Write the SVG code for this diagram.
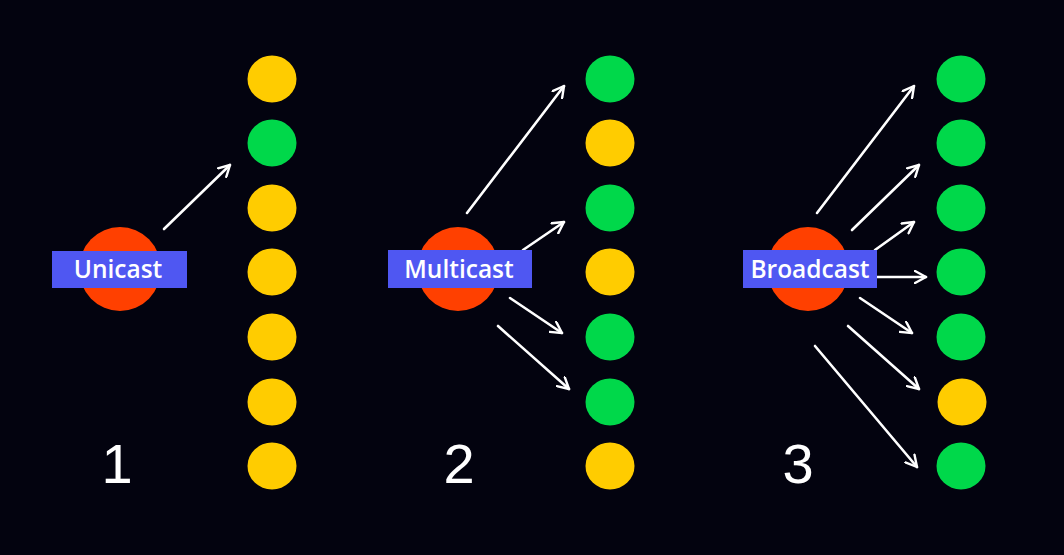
<svg xmlns="http://www.w3.org/2000/svg" width="1064" height="555" viewBox="0 0 1064 555">
<defs>
<style>
.y{fill:#ffcc00}.g{fill:#00d84a}.src{fill:#ff4000}.lbl{fill:#4f57f2}
.lt{fill:#ffffff;font-family:"Open Sans","Liberation Sans",sans-serif;font-weight:600;font-size:24.5px;text-anchor:middle}
.num{fill:#ffffff;font-family:"Liberation Sans",Arial,sans-serif;font-size:56px;text-anchor:middle}
.ar{stroke:#ffffff;stroke-width:2.6;fill:none;stroke-linecap:round;marker-end:url(#ah)}
</style>
<marker id="ah" viewBox="0 0 14 14" refX="12" refY="7" markerWidth="14" markerHeight="14" markerUnits="userSpaceOnUse" orient="auto">
<path d="M1,1 L12,7 L1,13" fill="none" stroke="#ffffff" stroke-width="2.4" stroke-linecap="round" stroke-linejoin="round"/>
</marker>
</defs>
<rect width="1064" height="555" fill="#03030f"/>
<g id="connectors">
<line class="ar" x1="164" y1="229" x2="230" y2="165"/>
<line class="ar" x1="467" y1="213" x2="564" y2="86"/>
<line class="ar" x1="523" y1="250" x2="564" y2="222"/>
<line class="ar" x1="510" y1="298" x2="562" y2="333"/>
<line class="ar" x1="498" y1="326" x2="569" y2="389"/>
<line class="ar" x1="817" y1="213" x2="914" y2="86"/>
<line class="ar" x1="852" y1="230" x2="919" y2="165"/>
<line class="ar" x1="875" y1="250" x2="914" y2="222"/>
<line class="ar" x1="877" y1="277" x2="926" y2="277"/>
<line class="ar" x1="860" y1="298" x2="912" y2="333"/>
<line class="ar" x1="848" y1="326" x2="919" y2="389"/>
<line class="ar" x1="815" y1="346" x2="917" y2="467"/>
</g>
<g id="col1">
<ellipse class="y" cx="272" cy="79" rx="24.5" ry="23.5"/>
<ellipse class="g" cx="272" cy="143" rx="24.5" ry="23.5"/>
<ellipse class="y" cx="272" cy="208" rx="24.5" ry="23.5"/>
<ellipse class="y" cx="272" cy="272" rx="24.5" ry="23.5"/>
<ellipse class="y" cx="272" cy="337" rx="24.5" ry="23.5"/>
<ellipse class="y" cx="272" cy="402" rx="24.5" ry="23.5"/>
<ellipse class="y" cx="272" cy="466" rx="24.5" ry="23.5"/>
</g>
<g id="col2">
<ellipse class="g" cx="610" cy="79" rx="24.5" ry="23.5"/>
<ellipse class="y" cx="610" cy="143" rx="24.5" ry="23.5"/>
<ellipse class="g" cx="610" cy="208" rx="24.5" ry="23.5"/>
<ellipse class="y" cx="610" cy="272" rx="24.5" ry="23.5"/>
<ellipse class="g" cx="610" cy="337" rx="24.5" ry="23.5"/>
<ellipse class="g" cx="610" cy="402" rx="24.5" ry="23.5"/>
<ellipse class="y" cx="610" cy="466" rx="24.5" ry="23.5"/>
</g>
<g id="col3">
<ellipse class="g" cx="961" cy="79" rx="24.5" ry="23.5"/>
<ellipse class="g" cx="961" cy="143" rx="24.5" ry="23.5"/>
<ellipse class="g" cx="961" cy="208" rx="24.5" ry="23.5"/>
<ellipse class="g" cx="961" cy="272" rx="24.5" ry="23.5"/>
<ellipse class="g" cx="961" cy="337" rx="24.5" ry="23.5"/>
<ellipse class="y" cx="962" cy="402" rx="24.5" ry="23.5"/>
<ellipse class="g" cx="961" cy="466" rx="24.5" ry="23.5"/>
</g>
<g id="unicast">
<ellipse class="src" cx="120" cy="269" rx="41" ry="42"/>
<rect class="lbl" x="52" y="251" width="135" height="37"/>
<text class="lt" x="118" y="278">Unicast</text>
</g>
<g id="multicast">
<ellipse class="src" cx="458" cy="269" rx="41" ry="42"/>
<rect class="lbl" x="388" y="250" width="144" height="38"/>
<text class="lt" x="459" y="278">Multicast</text>
</g>
<g id="broadcast">
<ellipse class="src" cx="808" cy="269" rx="41" ry="42"/>
<rect class="lbl" x="743" y="250" width="134" height="38"/>
<text class="lt" x="810" y="278">Broadcast</text>
</g>
<g id="labels">
<text class="num" x="117" y="483">1</text>
<text class="num" x="459" y="483">2</text>
<text class="num" x="798" y="483">3</text>
</g>
</svg>
